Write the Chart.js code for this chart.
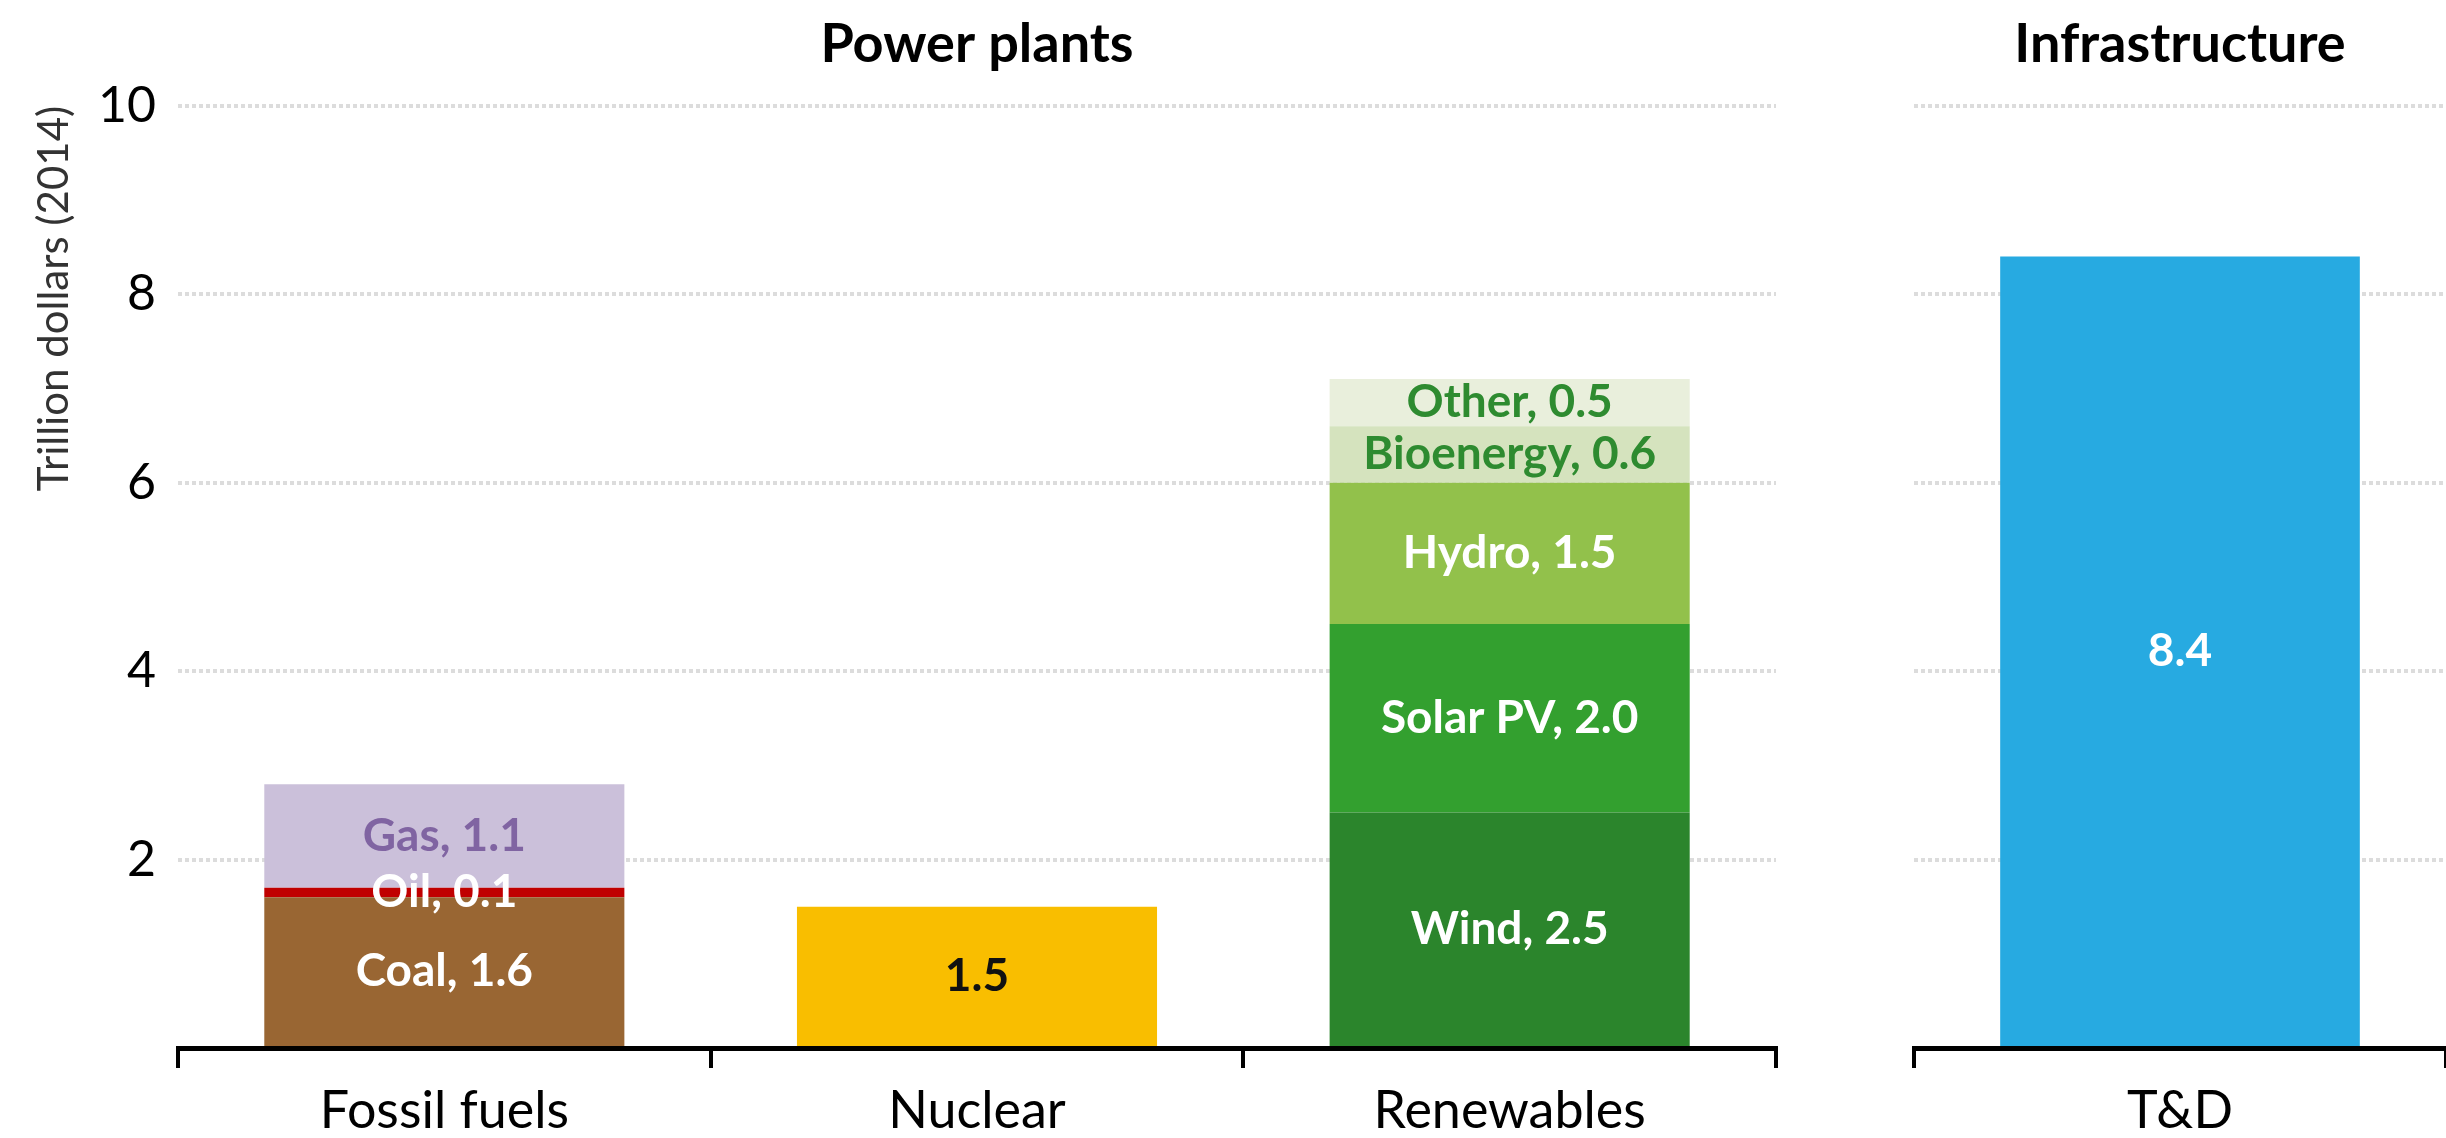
<!DOCTYPE html>
<html>
<head>
<meta charset="utf-8">
<title>Power plants and infrastructure investment</title>
<script src="https://cdn.jsdelivr.net/npm/chart.js@4.4.1/dist/chart.umd.min.js"></script>
<style>
  html, body { margin: 0; padding: 0; background: #fff; overflow: hidden; }
  #left { position: absolute; left: 0; top: 0; }
  #right { position: absolute; left: 1800px; top: 0; }
</style>
</head>
<body>
<canvas id="left" width="1800" height="1138"></canvas>
<canvas id="right" width="646" height="1138"></canvas>
<script>
// chart values (trillion dollars, 2014)
const plantCategories = ['Fossil fuels', 'Nuclear', 'Renewables'];
const fossilNames = ['Coal', 'Oil', 'Gas'];
const fossilValues = [1.6, 0.1, 1.1];
const nuclearValue = 1.5;
const renewableNames = ['Wind', 'Solar PV', 'Hydro', 'Bioenergy', 'Other'];
const renewableValues = [2.5, 2.0, 1.5, 0.6, 0.5];
const infraCategories = ['T&D'];
const infraValues = [8.4];
const yTickValues = [0, 2, 4, 6, 8, 10];

// styles
const fossilColors = ['#996633', '#C00000', '#CBC0DA'];
const fossilLabelColors = ['#ffffff', '#ffffff', '#8064A2'];
const nuclearColor = '#F9BE00';
const renewableColors = ['#2B852C', '#33A02F', '#92C14B', '#D5E3BE', '#E9EFDC'];
const renewableLabelColors = ['#ffffff', '#ffffff', '#ffffff', '#2E8B30', '#2E8B30'];
const infraColor = '#27AAE1';

const FONT = 'Lato';

// writes the value (and name) in the middle of every bar segment
const segmentLabels = {
  id: 'segmentLabels',
  afterDatasetsDraw(chart) {
    const ctx = chart.ctx;
    ctx.save();
    ctx.font = 'bold 46px ' + FONT;
    ctx.textAlign = 'center';
    ctx.textBaseline = 'middle';
    chart.data.datasets.forEach((ds, i) => {
      const meta = chart.getDatasetMeta(i);
      meta.data.forEach((bar, j) => {
        const v = ds.data[j];
        if (v == null) return;
        const text = ds.showName ? ds.label + ', ' + v.toFixed(1) : v.toFixed(1);
        ctx.fillStyle = ds.labelColor;
        ctx.fillText(text, bar.x, (bar.y + bar.base) / 2);
      });
    });
    ctx.restore();
  }
};

function placeAt(index, value, count) {
  const arr = new Array(count).fill(null);
  arr[index] = value;
  return arr;
}

const plantDatasets = [];
fossilNames.forEach((name, i) => {
  plantDatasets.push({
    label: name, data: placeAt(0, fossilValues[i], 3),
    backgroundColor: fossilColors[i], labelColor: fossilLabelColors[i], showName: true
  });
});
plantDatasets.push({
  label: 'Nuclear', data: placeAt(1, nuclearValue, 3),
  backgroundColor: nuclearColor, labelColor: '#111111', showName: false
});
renewableNames.forEach((name, i) => {
  plantDatasets.push({
    label: name, data: placeAt(2, renewableValues[i], 3),
    backgroundColor: renewableColors[i], labelColor: renewableLabelColors[i], showName: true
  });
});

function baseOptions(title, showYLabels, yWidth, padRight) {
  return {
    responsive: false,
    animation: false,
    layout: { padding: { top: 0, left: 0, right: padRight, bottom: 0 } },
    datasets: { bar: { categoryPercentage: 1, barPercentage: 0.676, borderWidth: 0 } },
    plugins: {
      legend: { display: false },
      tooltip: { enabled: false },
      title: {
        display: true, text: title, fullSize: false, color: '#000',
        font: { family: FONT, size: 54, weight: 'bold' },
        padding: { top: 12, bottom: 29 }
      }
    },
    scales: {
      x: {
        stacked: true,
        border: { display: true, color: '#000', width: 5 },
        grid: { drawOnChartArea: false, drawTicks: true, tickLength: 20, color: '#000', lineWidth: 4 },
        ticks: { color: '#000', padding: 12, font: { family: FONT, size: 52 } },
        afterFit(scale) { scale.height = 90; }
      },
      y: {
        stacked: true,
        min: 0, max: 10,
        afterBuildTicks(scale) { scale.ticks = yTickValues.map(v => ({ value: v })); },
        border: { display: false, dash: [4, 3] },
        grid: { color: '#DCDCDC', lineWidth: 4, drawTicks: false },
        ticks: {
          display: showYLabels, color: '#000', padding: 22,
          font: { family: FONT, size: 50 },
          callback: v => (v === 0 ? '' : v)
        },
        title: {
          display: showYLabels, text: 'Trillion dollars (2014)', align: 'end',
          color: '#333', font: { family: FONT, size: 42 }, padding: { top: 29, bottom: 0 }
        },
        afterFit(scale) { scale.width = yWidth; }
      }
    }
  };
}

new Chart(document.getElementById('left'), {
  type: 'bar',
  data: { labels: plantCategories, datasets: plantDatasets },
  options: baseOptions('Power plants', true, 178, 24),
  plugins: [segmentLabels]
});

new Chart(document.getElementById('right'), {
  type: 'bar',
  data: {
    labels: infraCategories,
    datasets: [{
      label: 'T&D', data: infraValues,
      backgroundColor: infraColor, labelColor: '#ffffff', showName: false
    }]
  },
  options: baseOptions('Infrastructure', false, 114, 0),
  plugins: [segmentLabels]
});
</script>
</body>
</html>
